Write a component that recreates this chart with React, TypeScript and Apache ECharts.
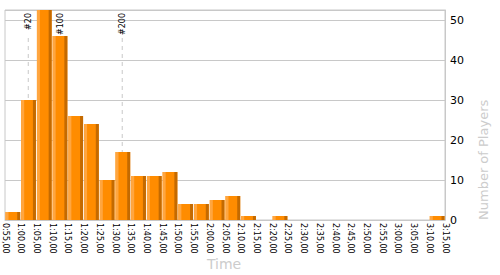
import React, { useEffect, useRef } from "react";
import * as echarts from "echarts";

// Histogram bins (start minute of each 5-minute bin)
const binStartMinutes = [
  55, 60, 65, 70, 75, 80, 85, 90, 95, 100, 105, 110, 115, 120,
  125, 130, 135, 140, 145, 150, 155, 160, 165, 170, 175, 180, 185, 190,
];
const binWidthMinutes = 5;
const playerCounts = [
  2, 30, 53, 46, 26, 24, 10, 17, 11, 11, 12, 4, 4, 5,
  6, 1, 0, 1, 0, 0, 0, 0, 0, 0, 0, 0, 0, 1,
];
const markerMinutes = [62.4, 72.5, 92.3];
const markerLabels = ["#20", "#100", "#200"];
const xMin = 55;
const xMax = 195;
const yMax = 52.5;
const yAxisTitle = "Number of Players";
const xAxisTitle = "Time";

const FONT = "DejaVu Sans";

function fmtTime(m: number): string {
  const h = Math.floor(m / 60);
  const mm = Math.round(m % 60);
  return `${h}:${String(mm).padStart(2, "0")},00`;
}

export default function App() {
  const ref = useRef<HTMLDivElement>(null);
  useEffect(() => {
    if (!ref.current) return;
    const chart = echarts.init(ref.current, undefined, { renderer: "svg" });
    const barData = binStartMinutes.map((m, i) => [m, m + binWidthMinutes, playerCounts[i]]);
    const markerData = markerMinutes.map((m) => [m, 0]);
    chart.setOption({
      animation: false,
      backgroundColor: "#ffffff",
      grid: {
        left: 5,
        right: 55,
        top: 10,
        bottom: 55,
        show: true,
        borderColor: "#c8c8c8",
        borderWidth: 1,
        backgroundColor: "transparent",
      },
      xAxis: {
        type: "value",
        min: xMin,
        max: xMax,
        interval: 5,
        axisLine: { show: true, lineStyle: { color: "#c8c8c8" } },
        axisTick: { show: false },
        splitLine: { show: false },
        axisLabel: {
          rotate: -90,
          fontSize: 8,
          fontFamily: FONT,
          color: "#000",
          margin: 3,
          formatter: (v: number) => fmtTime(v),
        },
      },
      yAxis: {
        type: "value",
        position: "right",
        min: 0,
        max: yMax,
        interval: 10,
        axisLine: { show: true, lineStyle: { color: "#c8c8c8" } },
        axisTick: { show: false },
        splitLine: { show: true, lineStyle: { color: "#c8c8c8", width: 1 } },
        axisLabel: {
          fontSize: 11,
          fontFamily: FONT,
          color: "#000",
          margin: 5,
          showMaxLabel: false,
        },
      },
      graphic: [
        {
          type: "text",
          x: 483,
          y: 220,
          rotation: Math.PI / 2,
          style: {
            text: yAxisTitle,
            fill: "#cccccc",
            fontSize: 13,
            fontFamily: FONT,
            align: "left",
            verticalAlign: "middle",
          },
        },
        {
          type: "text",
          x: 224,
          y: 264,
          style: {
            text: xAxisTitle,
            fill: "#cccccc",
            fontSize: 14,
            fontFamily: FONT,
            align: "center",
            verticalAlign: "middle",
          },
        },
      ],
      series: [
        {
          type: "custom",
          z: 1,
          data: markerData,
          encode: { x: 0, y: 1 },
          renderItem: (params: any, api: any) => {
            const p = api.coord([api.value(0), 0]);
            const cs = params.coordSys;
            return {
              type: "group",
              children: [
                {
                  type: "line",
                  shape: { x1: p[0], y1: cs.y + 28, x2: p[0], y2: cs.y + cs.height },
                  style: { stroke: "#c8c8c8", lineWidth: 1, lineDash: [4, 4] },
                },
                {
                  type: "text",
                  x: p[0],
                  y: cs.y + 3,
                  rotation: Math.PI / 2,
                  style: {
                    text: markerLabels[params.dataIndex],
                    fill: "#000",
                    fontSize: 8,
                    fontFamily: FONT,
                    align: "right",
                    verticalAlign: "middle",
                  },
                },
              ],
            };
          },
        },
        {
          type: "custom",
          z: 2,
          data: barData,
          encode: { x: [0, 1], y: 2 },
          renderItem: (params: any, api: any) => {
            const v = api.value(2);
            if (!v) return null;
            const cs = params.coordSys;
            const a = api.coord([api.value(0), 0]);
            const b = api.coord([api.value(1), 0]);
            const t = api.coord([api.value(0), v]);
            const top = Math.max(t[1], cs.y);
            const left = a[0] + 0.5;
            const right = b[0] - 0.5;
            const w = right - left;
            const h = a[1] - top;
            return {
              type: "group",
              children: [
                { type: "rect", shape: { x: left, y: top, width: w, height: h }, style: { fill: "#ff8c00" } },
                { type: "rect", shape: { x: left, y: top, width: 3, height: h }, style: { fill: "#ffa640" } },
                { type: "rect", shape: { x: right - 3, y: top, width: 3, height: h }, style: { fill: "#c46a00" } },
              ],
            };
          },
        },
      ],
    });
    return () => chart.dispose();
  }, []);
  return (
    <div
      ref={ref}
      style={{ position: "fixed", left: 0, top: 0, width: 500, height: 275 }}
    />
  );
}
